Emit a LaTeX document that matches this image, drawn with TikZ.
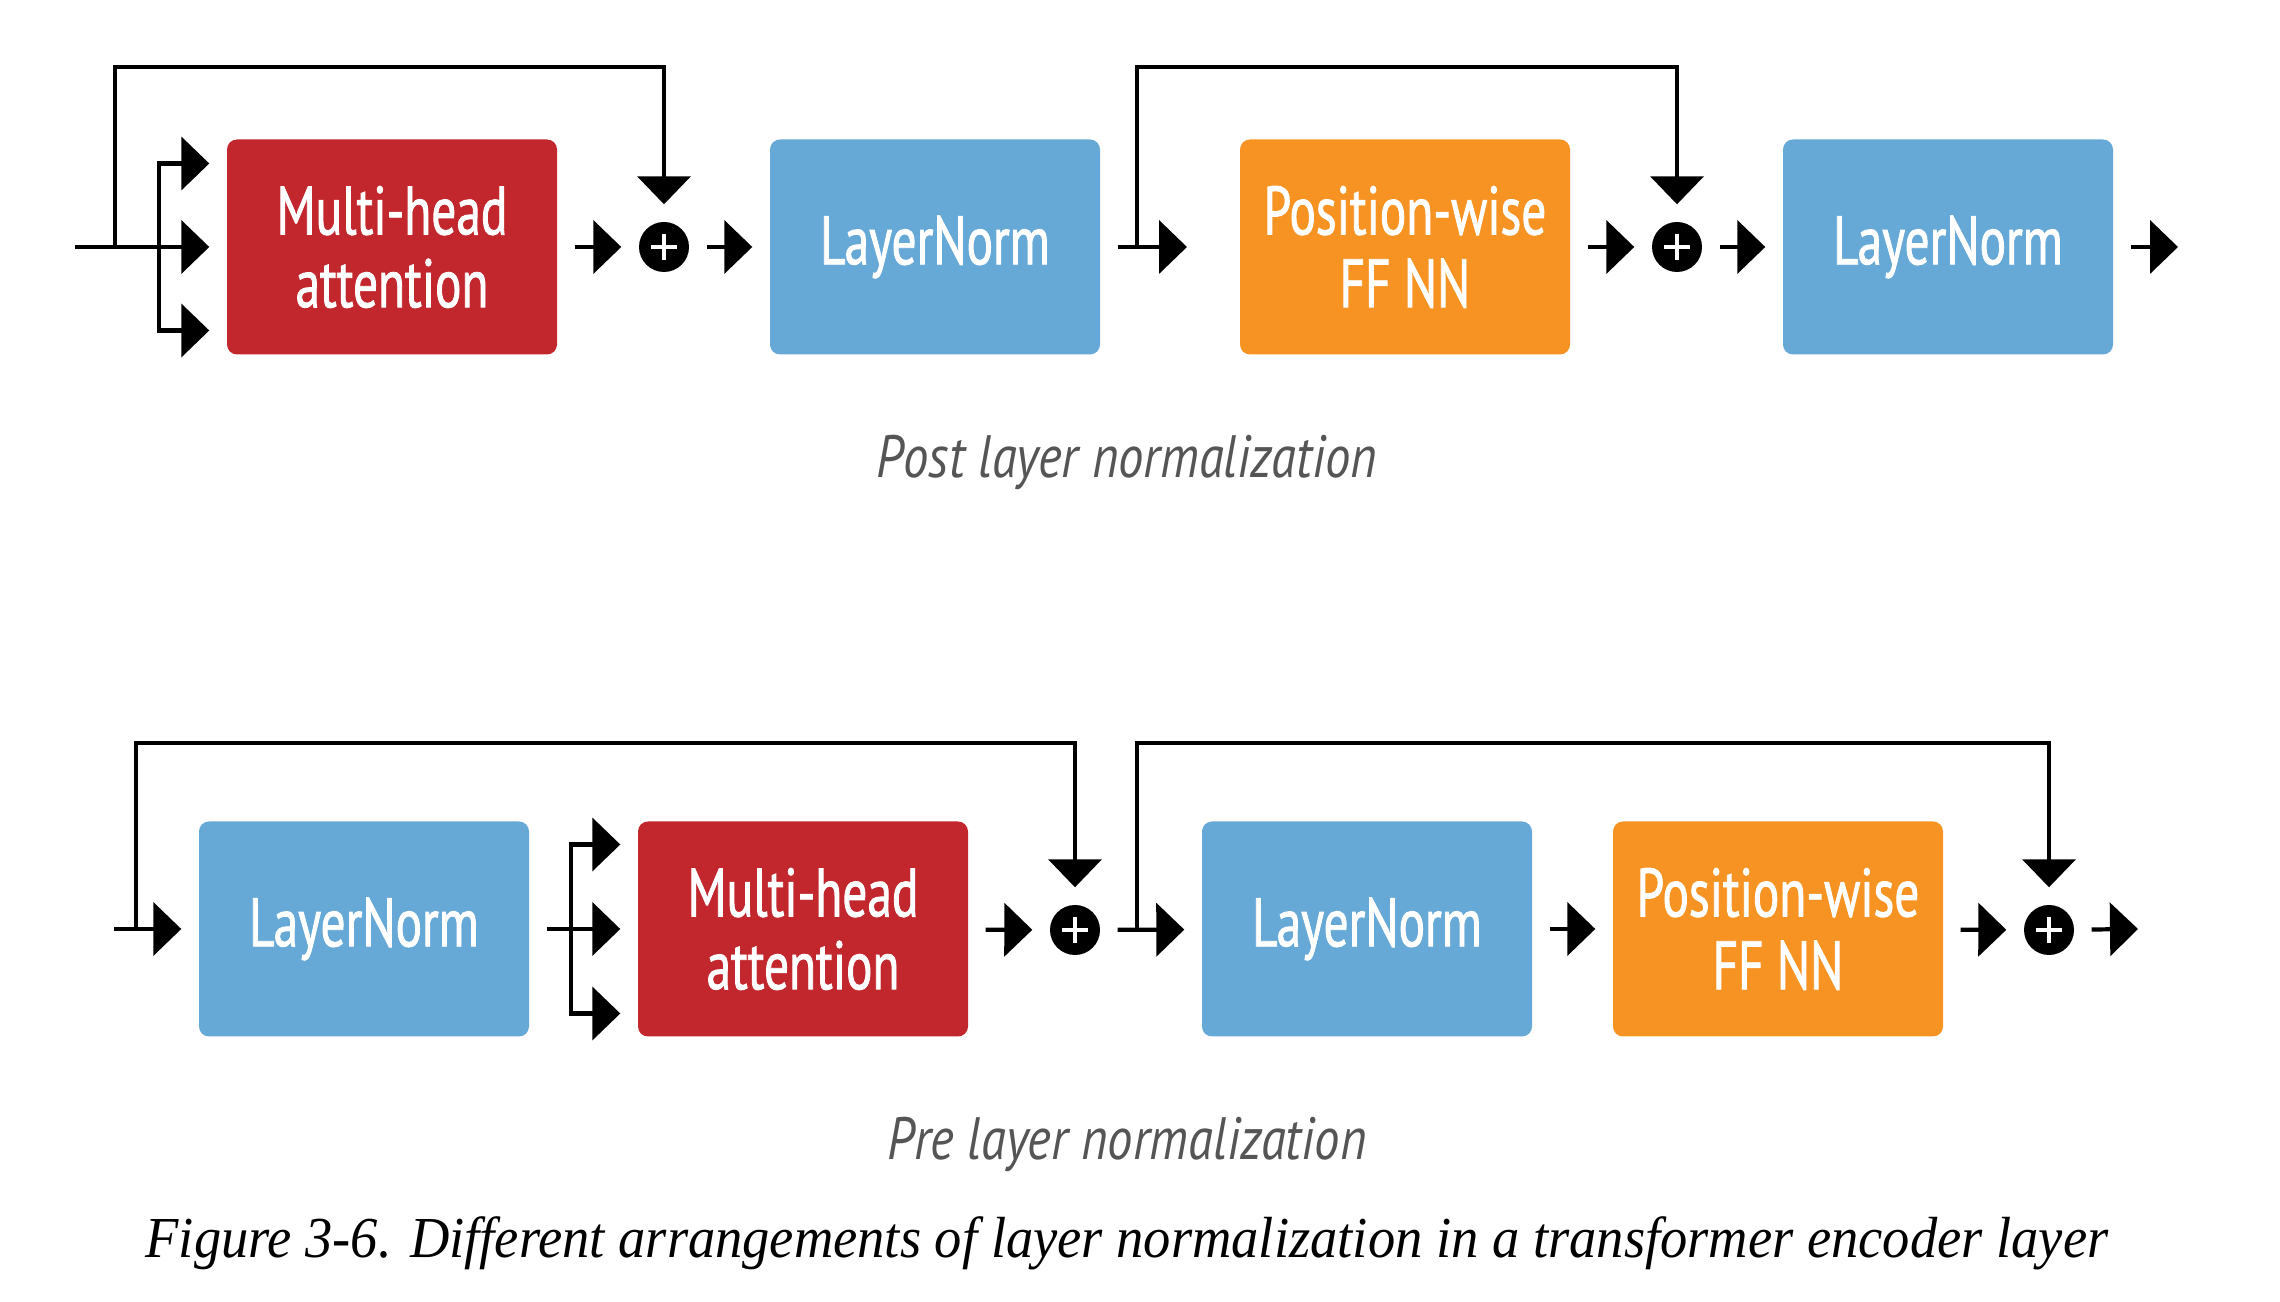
\documentclass[tikz,border=0pt]{standalone}
\usepackage{fontspec}
\setmainfont[FakeStretch=0.94]{Liberation Serif}
\newfontfamily\boxfont[FakeStretch=0.72, FakeBold=1.2]{PT Sans}
\newfontfamily\subfont[FakeStretch=0.85]{PT Sans}
\usetikzlibrary{arrows.meta, positioning, calc}
\definecolor{mhacolor}{RGB}{193, 39, 45}
\definecolor{lncolor}{RGB}{103, 169, 214}
\definecolor{ffcolor}{RGB}{246, 147, 34}
\definecolor{subcolor}{RGB}{85, 85, 85}

\tikzset{
  blk/.style={rounded corners=0.1cm, minimum width=3.3cm, minimum height=2.15cm, inner sep=0pt,
    text=white, align=center, font=\boxfont\fontsize{19.5}{20.7}\selectfont},
  lnblk/.style={blk, fill=lncolor},
  mhablk/.style={blk, fill=mhacolor},
  ffblk/.style={blk, fill=ffcolor},
  addnode/.style={circle, fill=black, minimum size=0.5cm, inner sep=0pt,
    path picture={
      \draw[white, line width=1.3pt] ([xshift=-0.13cm]path picture bounding box.center) -- ([xshift=0.13cm]path picture bounding box.center);
      \draw[white, line width=1.3pt] ([yshift=-0.13cm]path picture bounding box.center) -- ([yshift=0.13cm]path picture bounding box.center);}},
  arr/.style={line width=1.2pt, -{Triangle[length=0.28cm, width=0.53cm]}, shorten >=0.17cm},
  link/.style={arr, shorten <=0.17cm},
  sublabel/.style={font=\subfont\itshape\fontsize{17}{20}\selectfont, text=subcolor}
}

\begin{document}
\begin{tikzpicture}
\useasboundingbox (0,0) rectangle (22.8,13.02);

% post layer normalization
\node[mhablk] (mhaT) at (3.92,10.55) {Multi-head\\attention};
\node[addnode] (plusT1) at (6.64,10.55) {};
\node[lnblk] (lnT1) at (9.35,10.55) {LayerNorm};
\node[ffblk] (pwT) at (14.05,10.55) {Position-wise\\FF NN};
\node[addnode] (plusT2) at (16.77,10.55) {};
\node[lnblk] (lnT2) at (19.48,10.55) {LayerNorm};
\node[sublabel] (postlbl) at (11.27,8.40) {Post layer normalization};

\coordinate (inT) at (0.75,10.55);
\coordinate (sT1) at (1.15,10.55);
\coordinate (brT) at (1.59,10.55);
\coordinate (topT) at (0,12.35);
\coordinate (sT2) at (11.37,10.55);
\coordinate (inT2) at (11.87,10.55);
\coordinate (outT) at (21.78,10.55);

\draw[arr] (inT) -- (mhaT);
\foreach \dy in {-0.835,0.835}
  \draw[arr] (brT) |- ([yshift=\dy cm]mhaT.west);
\draw[arr] (sT1) |- (plusT1 |- topT) -- (plusT1);
\draw[link] (mhaT) -- (plusT1);
\draw[link] (plusT1) -- (lnT1);
\draw[link, shorten >=0pt] (lnT1) -- (inT2);
\draw[arr] (sT2) |- (plusT2 |- topT) -- (plusT2);
\draw[link] (pwT) -- (plusT2);
\draw[link] (plusT2) -- (lnT2);
\draw[link, shorten >=0pt] (lnT2) -- (outT);

% pre layer normalization
\node[lnblk] (lnB1) at (3.64,3.73) {LayerNorm};
\node[mhablk] (mhaB) at (8.03,3.73) {Multi-head\\attention};
\node[addnode] (plusB1) at (10.75,3.72) {};
\node[lnblk] (lnB2) at (13.67,3.73) {LayerNorm};
\node[ffblk] (pwB) at (17.78,3.73) {Position-wise\\FF NN};
\node[addnode] (plusB2) at (20.49,3.72) {};
\node[sublabel] (prelbl) at (11.27,1.58) {Pre layer normalization};

\coordinate (inB) at (1.14,3.73);
\coordinate (sB1) at (1.36,3.73);
\coordinate (brB) at (5.71,3.73);
\coordinate (topB) at (0,5.59);
\coordinate (sB2) at (11.37,3.73);
\coordinate (outB) at (21.38,3.73);

\draw[arr] (inB) -- (lnB1);
\draw[arr] (sB1) |- (plusB1 |- topB) -- (plusB1);
\draw[link] (lnB1) -- (mhaB);
\foreach \dy in {-0.845,0.845}
  \draw[arr] (brB) |- ([yshift=\dy cm]mhaB.west);
\draw[link] (mhaB) -- (plusB1);
\draw[link] (plusB1) -- (lnB2);
\draw[arr] (sB2) |- (plusB2 |- topB) -- (plusB2);
\draw[link] (lnB2) -- (pwB);
\draw[link] (pwB) -- (plusB2);
\draw[link, shorten >=0pt] (plusB2) -- (outB);

\node (figcap) at (11.27,0.59) {\fontsize{16.5}{19}\selectfont\itshape Figure 3-6. Different arrangements of layer normalization in a transformer encoder layer};
\end{tikzpicture}
\end{document}
